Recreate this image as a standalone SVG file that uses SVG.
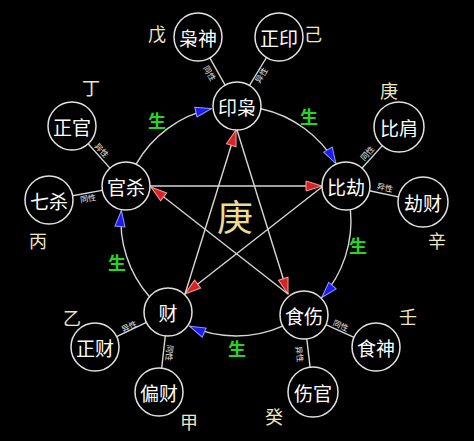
<svg xmlns="http://www.w3.org/2000/svg" width="474" height="441" viewBox="0 0 474 441">
<style>
.node{fill:#000;stroke:#e2e2e2;stroke-width:1.5}
.nt{fill:#fff;font-family:"Noto Sans CJK SC","Noto Sans",sans-serif;font-size:19px;text-anchor:middle;dominant-baseline:central}
.ln{fill:none;stroke:#d6d6d6;stroke-width:1.4}
.lk{fill:#e8e8e8;font-family:"Noto Sans CJK SC",sans-serif;font-size:8px;text-anchor:middle;dominant-baseline:central}
.sh{fill:#22d622;font-family:"Noto Sans CJK SC",sans-serif;font-size:18px;font-weight:bold;text-anchor:middle;dominant-baseline:central}
.st{fill:#efe6c2;font-family:"Noto Sans CJK SC",sans-serif;font-size:18px;text-anchor:middle;dominant-baseline:central}
</style>
<defs>
<marker id="blue" markerUnits="userSpaceOnUse" markerWidth="18" markerHeight="12" refX="16" refY="5" orient="auto" viewBox="-1 -1 18 12">
<path d="M0,0 L16,5 L0,10 z" fill="#1c1cf0" stroke="#9a9aff" stroke-width="1"/>
</marker>
<marker id="red" markerUnits="userSpaceOnUse" markerWidth="18" markerHeight="12" refX="16" refY="5" orient="auto" viewBox="-1 -1 18 12">
<path d="M0,0 L16,5 L0,10 z" fill="#d42424" stroke="#ff9a9a" stroke-width="1"/>
</marker>
</defs>
<rect width="474" height="441" fill="#000"/>
<g id="connectors">
<path class="ln" d="M136.1,164.1 A115,115 0 0 1 211.5,108.6" marker-end="url(#blue)"/>
<path class="ln" d="M260.9,108.7 A115,115 0 0 1 335.9,163.5" marker-end="url(#blue)"/>
<path class="ln" d="M350.4,209.7 A115,115 0 0 1 321.8,297.5" marker-end="url(#blue)"/>
<path class="ln" d="M282.6,326.1 A115,115 0 0 1 189.5,326.2" marker-end="url(#blue)"/>
<path class="ln" d="M149.5,296.8 A115,115 0 0 1 121.4,210.5" marker-end="url(#blue)"/>
<line class="ln" x1="150" y1="186" x2="322" y2="186" marker-end="url(#red)"/>
<line class="ln" x1="322" y1="187" x2="185" y2="294" marker-end="url(#red)"/>
<line class="ln" x1="185" y1="294" x2="236" y2="130" marker-end="url(#red)"/>
<line class="ln" x1="237" y1="130" x2="288" y2="294" marker-end="url(#red)"/>
<line class="ln" x1="288" y1="294" x2="151" y2="187" marker-end="url(#red)"/>
<line class="ln" x1="209.8" y1="57.9" x2="225.4" y2="85.6"/>
<line class="ln" x1="266.5" y1="57.5" x2="249.2" y2="85.9"/>
<line class="ln" x1="88.1" y1="143.8" x2="110.6" y2="168.9"/>
<line class="ln" x1="72.6" y1="195.7" x2="103.4" y2="190.1"/>
<line class="ln" x1="383" y1="144.9" x2="361.7" y2="168.5"/>
<line class="ln" x1="369.5" y1="190.8" x2="399.5" y2="197.1"/>
<line class="ln" x1="116.6" y1="336.6" x2="146.4" y2="322.4"/>
<line class="ln" x1="165.3" y1="335.8" x2="161.7" y2="368.1"/>
<line class="ln" x1="325.9" y1="324.7" x2="354.1" y2="337.3"/>
<line class="ln" x1="306.8" y1="338.8" x2="310.2" y2="368.1"/>
<text class="lk" transform="translate(210,73) rotate(60.5)">同性</text>
<text class="lk" transform="translate(261,75) rotate(-58.7)">异性</text>
<text class="lk" transform="translate(102,150) rotate(48)">异性</text>
<text class="lk" transform="translate(88,198) rotate(-10)">同性</text>
<text class="lk" transform="translate(367,153) rotate(-48)">同性</text>
<text class="lk" transform="translate(385,187) rotate(11.7)">异性</text>
<text class="lk" transform="translate(129,326) rotate(-25.6)">异性</text>
<text class="lk" transform="translate(170,353) rotate(96)">同性</text>
<text class="lk" transform="translate(341,325) rotate(24)">同性</text>
<text class="lk" transform="translate(300,354) rotate(83)">异性</text>
<text class="sh" x="157" y="120">生</text>
<text class="sh" x="309" y="116">生</text>
<text class="sh" x="358" y="245">生</text>
<text class="sh" x="117" y="262">生</text>
<text class="sh" x="237" y="348">生</text>
</g>
<g id="n-yinxiao"><circle class="node" cx="237" cy="106" r="24"/><text class="nt" x="237" y="106">印枭</text></g>
<g id="n-bijie"><circle class="node" cx="346" cy="186" r="24"/><text class="nt" x="346" y="186">比劫</text></g>
<g id="n-shishang"><circle class="node" cx="304" cy="315" r="24"/><text class="nt" x="304" y="315">食伤</text></g>
<g id="n-cai"><circle class="node" cx="168" cy="312" r="24"/><text class="nt" x="168" y="312">财</text></g>
<g id="n-guansha"><circle class="node" cx="126" cy="186" r="24"/><text class="nt" x="126" y="186">官杀</text></g>
<g id="n-xiaoshen"><circle class="node" cx="198" cy="37" r="24"/><text class="nt" x="198" y="37">枭神</text></g>
<g id="n-zhengyin"><circle class="node" cx="279" cy="37" r="24"/><text class="nt" x="279" y="37">正印</text></g>
<g id="n-zhengguan"><circle class="node" cx="72" cy="126" r="24"/><text class="nt" x="72" y="126">正官</text></g>
<g id="n-qisha"><circle class="node" cx="49" cy="200" r="24"/><text class="nt" x="49" y="200">七杀</text></g>
<g id="n-bijian"><circle class="node" cx="399" cy="127" r="25"/><text class="nt" x="399" y="127">比肩</text></g>
<g id="n-jiecai"><circle class="node" cx="423" cy="202" r="25"/><text class="nt" x="423" y="202">劫财</text></g>
<g id="n-zhengcai"><circle class="node" cx="95" cy="347" r="24"/><text class="nt" x="95" y="347">正财</text></g>
<g id="n-piancai"><circle class="node" cx="159" cy="392" r="24"/><text class="nt" x="159" y="392">偏财</text></g>
<g id="n-shishen"><circle class="node" cx="376" cy="347" r="24"/><text class="nt" x="376" y="347">食神</text></g>
<g id="n-shangguan"><circle class="node" cx="313" cy="392" r="25"/><text class="nt" x="313" y="392">伤官</text></g>
<g id="stems">
<text class="st" x="157" y="33">戊</text>
<text class="st" x="313" y="33">己</text>
<text class="st" x="91" y="87">丁</text>
<text class="st" x="38" y="240">丙</text>
<text class="st" x="389" y="90">庚</text>
<text class="st" x="437" y="240">辛</text>
<text class="st" x="72" y="317">乙</text>
<text class="st" x="189" y="421">甲</text>
<text class="st" x="408" y="316">壬</text>
<text class="st" x="274" y="416">癸</text>
</g>
<g id="center"><text x="235" y="215" fill="#eadc94" font-family="Noto Sans CJK SC,sans-serif" font-size="36" text-anchor="middle" dominant-baseline="central">庚</text></g>
</svg>
